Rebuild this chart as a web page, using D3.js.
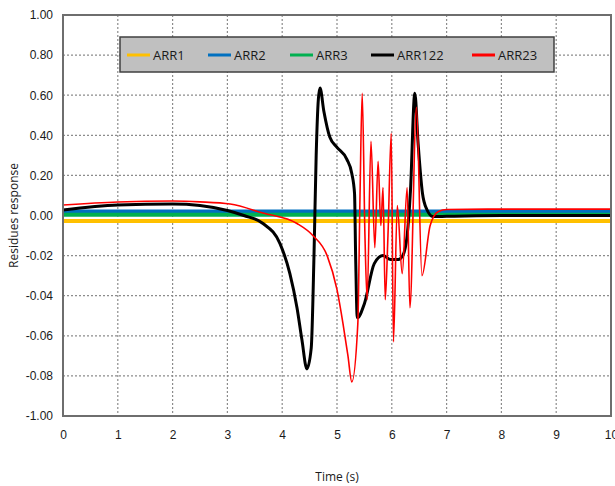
<!DOCTYPE html>
<html>
<head>
<meta charset="utf-8">
<script src="https://cdn.jsdelivr.net/npm/d3@7"></script>
<style>
  body { margin: 0; background: #fff; }
  svg { display: block; }
</style>
</head>
<body>
<svg></svg>
<script>
const width = 615;
const height = 486;
const margin = { left: 63, right: 4, top: 15, bottom: 70 };

// tick labels as printed on the y axis (bottom to top)
const yTickValues = [-1, -0.8, -0.6, -0.4, -0.2, 0, 0.2, 0.4, 0.6, 0.8, 1];
const yTickLabels = ["-1.00", "-0.08", "-0.06", "-0.04", "-0.02", "0.00", "0.20", "0.40", "0.60", "0.80", "1.00"];
const xTickValues = [0, 1, 2, 3, 4, 5, 6, 7, 8, 9, 10];

const seriesNames = ["ARR1", "ARR2", "ARR3", "ARR122", "ARR23"];
const seriesColors = ["#ffc000", "#0070c0", "#00b050", "#000000", "#ff0000"];
const seriesWidths = [4, 4, 4, 3, 1.6];

// flat series
const timeFlat = [0, 10];
const arr1 = [-0.028, -0.028];
const arr2 = [0.02, 0.02];
const arr3 = [0.004, 0.004];

// ARR122
const time122 = [0, 1, 2, 2.5, 3, 3.3, 3.65, 3.96, 4.14, 4.27, 4.36, 4.45, 4.53, 4.58, 4.62, 4.66, 4.69,
  4.76, 4.87, 5.0, 5.18, 5.27, 5.32, 5.34, 5.37, 5.5, 5.68, 5.84, 5.98, 6.12, 6.2, 6.28, 6.34, 6.42,
  6.48, 6.56, 6.64, 6.75, 7, 8, 10];
const arr122 = [0.027, 0.052, 0.057, 0.05, 0.025, 0.0, -0.04, -0.14, -0.29, -0.46, -0.62, -0.765, -0.66, -0.2, 0.3, 0.58, 0.636,
  0.52, 0.39, 0.34, 0.28, 0.21, 0.11, -0.2, -0.51, -0.44, -0.24, -0.2, -0.22, -0.22, -0.2, -0.1, 0.12, 0.61,
  0.36, 0.11, 0.03, -0.005, -0.004, 0.0, 0.0];

// ARR23
const time23 = [0, 1, 2, 2.5, 3.05, 3.65, 4.27, 4.56, 4.82, 5.0, 5.11, 5.2, 5.27, 5.38, 5.42, 5.46,
  5.51, 5.55, 5.62, 5.69, 5.75, 5.8, 5.84, 5.88, 5.93, 5.99, 6.03, 6.1, 6.19, 6.28, 6.33, 6.45,
  6.55, 6.7, 6.85, 7, 8, 10];
const arr23 = [0.052, 0.067, 0.072, 0.068, 0.057, 0.012, -0.04, -0.1, -0.2, -0.37, -0.54, -0.7, -0.83, -0.54, 0.1, 0.61,
  -0.1, -0.42, 0.37, -0.16, 0.27, -0.05, 0.14, -0.42, -0.1, 0.41, -0.63, 0.05, -0.29, 0.14, -0.46, 0.54,
  -0.3, -0.05, 0.02, 0.03, 0.032, 0.032];

const seriesData = [
  [timeFlat, arr1],
  [timeFlat, arr2],
  [timeFlat, arr3],
  [time122, arr122],
  [time23, arr23]
];

let svg = d3.select("svg").attr("width", width).attr("height", height);

let scX = d3.scaleLinear().domain([0, 10]).range([margin.left, width - margin.right]);
let scY = d3.scaleLinear().domain([-1, 1]).range([height - margin.bottom, margin.top]);

const plotW = width - margin.left - margin.right;
const plotH = height - margin.top - margin.bottom;

// grid
svg.append("g")
  .selectAll("line")
  .data(xTickValues.slice(1, -1))
  .enter()
  .append("line")
  .attr("x1", (d) => scX(d)).attr("x2", (d) => scX(d))
  .attr("y1", margin.top).attr("y2", height - margin.bottom)
  .attr("stroke", "#8c8c8c")
  .attr("stroke-width", 1.2)
  .attr("stroke-dasharray", "2,2");

svg.append("g")
  .selectAll("line")
  .data(yTickValues.slice(1, -1))
  .enter()
  .append("line")
  .attr("x1", margin.left).attr("x2", width - margin.right)
  .attr("y1", (d) => scY(d)).attr("y2", (d) => scY(d))
  .attr("stroke", "#8c8c8c")
  .attr("stroke-width", 1.2)
  .attr("stroke-dasharray", "2,2");

// axes (labels only)
let axisX = d3.axisBottom(scX).tickValues(xTickValues).tickFormat(d3.format("d")).tickSize(0).tickPadding(14);
let axisY = d3.axisLeft(scY).tickValues(yTickValues).tickFormat((d, i) => yTickLabels[i]).tickSize(0).tickPadding(10);

let gx = svg.append("g")
  .attr("transform", `translate(0, ${height - margin.bottom})`)
  .call(axisX);
let gy = svg.append("g")
  .attr("transform", `translate(${margin.left}, 0)`)
  .call(axisY);
[gx, gy].forEach((g) => {
  g.select(".domain").remove();
  g.selectAll("text")
    .style("font-family", "Liberation Sans, Arial, sans-serif")
    .style("font-size", "12px")
    .attr("fill", "#1a1a1a");
});

// series
let line = d3.line()
  .x((d) => scX(d[0]))
  .y((d) => scY(d[1]))
  .curve(d3.curveMonotoneX);

seriesData.forEach((s, i) => {
  let pts = s[0].map((t, j) => [t, s[1][j]]);
  svg.append("path")
    .datum(pts)
    .attr("d", line)
    .attr("fill", "none")
    .attr("stroke", seriesColors[i])
    .attr("stroke-width", seriesWidths[i])
    .attr("stroke-linejoin", "round");
});

// frame
svg.append("rect")
  .attr("x", margin.left).attr("y", margin.top)
  .attr("width", plotW).attr("height", plotH)
  .attr("fill", "none")
  .attr("stroke", "#6e6e6e")
  .attr("stroke-width", 2);

// legend
let legend = svg.append("g");
legend.append("rect")
  .attr("x", 120).attr("y", 37)
  .attr("width", 434).attr("height", 35)
  .attr("fill", "#c0c0c0")
  .attr("stroke", "#404040")
  .attr("stroke-width", 1.5);
const legendX = [127, 208, 290, 371, 472];
seriesNames.forEach((name, i) => {
  legend.append("line")
    .attr("x1", legendX[i]).attr("x2", legendX[i] + 23)
    .attr("y1", 55).attr("y2", 55)
    .attr("stroke", seriesColors[i])
    .attr("stroke-width", 3);
  legend.append("text")
    .attr("x", legendX[i] + 26).attr("y", 60)
    .text(name)
    .style("font-family", "Open Sans, sans-serif")
    .style("font-size", "13px")
    .attr("fill", "#1a1a1a");
});

// axis titles
svg.append("text")
  .attr("x", scX(5)).attr("y", 481)
  .attr("text-anchor", "middle")
  .text("Time (s)")
  .style("font-family", "Open Sans, sans-serif")
  .style("font-size", "12px")
  .attr("fill", "#1a1a1a");

svg.append("text")
  .attr("transform", `translate(18, ${scY(0)}) rotate(-90)`)
  .attr("text-anchor", "middle")
  .text("Residues response")
  .style("font-family", "Open Sans, sans-serif")
  .style("font-size", "12px")
  .attr("fill", "#1a1a1a");
</script>
</body>
</html>
